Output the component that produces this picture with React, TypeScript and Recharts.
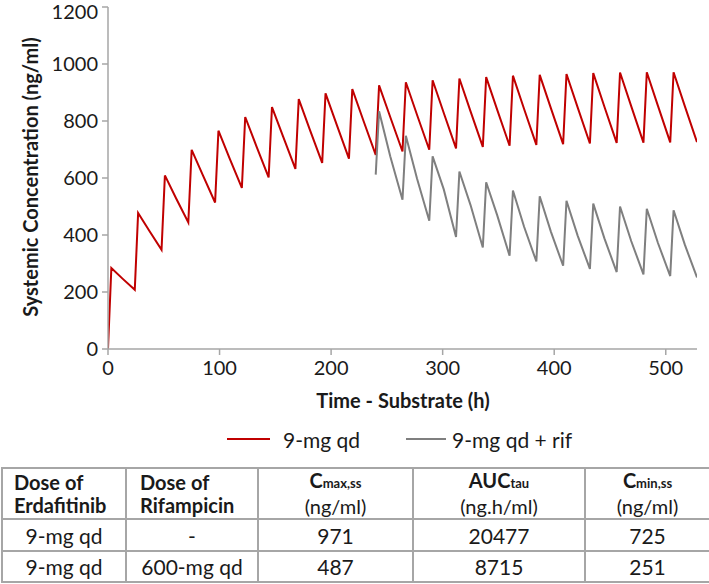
import { LineChart, Line, XAxis, YAxis } from 'recharts';

// dosing schedule (h) and concentrations (ng/ml)
const qdDoseTimes = [0, 24, 48, 72, 96, 120, 144, 168, 192, 216, 240, 264, 288, 312, 336, 360, 384, 408, 432, 456, 480, 504];
const qdStart = 0;
const qdPeaks = [284, 477, 609, 699, 766, 814, 849, 877, 897, 912, 925, 936, 943, 949, 954, 959, 962, 965, 968, 970, 971, 971];
const qdMids = [247, 415, 529, 610, 669, 712, 745, 769, 787, 801, 814, 822, 828, 834, 838, 842, 845, 848, 850, 852, 853, 853];
const qdTroughs = [208, 348, 444, 514, 565, 602, 632, 653, 668, 681, 693, 699, 704, 709, 713, 716, 719, 721, 723, 724, 725, 726];

const rifDoseTimes = [240, 264, 288, 312, 336, 360, 384, 408, 432, 456, 480, 504];
const rifStart = 612;
const rifPeaks = [834, 748, 676, 623, 585, 556, 536, 520, 510, 500, 492, 487];
const rifMids = [676, 598, 560, 505, 468, 429, 412, 398, 388, 379, 372, 367];
const rifTroughs = [524, 450, 393, 356, 327, 307, 292, 281, 270, 262, 256, 251];

// hours after each dose
const PEAK_AT = 3;
const MID_AT = 13;
const TAU = 24;

const xTicks = [0, 100, 200, 300, 400, 500];
const yTicks = [0, 200, 400, 600, 800, 1000, 1200];

const tableRows = [
  ['9-mg qd', '-', '971', '20477', '725'],
  ['9-mg qd', '600-mg qd', '487', '8715', '251'],
];

const RED = '#c00000';
const GREY = '#7f7f7f';
const AXIS = '#a6a6a6';
const TEXT = '#1a1a1a';
const FONT = 'Lato, "Open Sans", sans-serif';

function buildProfile(doses: number[], start: number, peaks: number[], mids: number[], troughs: number[]) {
  const pts = [{ t: doses[0], c: start }];
  doses.forEach((d, i) => {
    pts.push({ t: d + PEAK_AT, c: peaks[i] });
    pts.push({ t: d + MID_AT, c: mids[i] });
    pts.push({ t: d + TAU, c: troughs[i] });
  });
  return pts;
}

const qdData = buildProfile(qdDoseTimes, qdStart, qdPeaks, qdMids, qdTroughs);
const rifData = buildProfile(rifDoseTimes, rifStart, rifPeaks, rifMids, rifTroughs);

const cell: React.CSSProperties = {
  border: `2px solid ${AXIS}`,
  textAlign: 'center',
  padding: 0,
  fontSize: 21,
  color: TEXT,
};

const headCell: React.CSSProperties = { ...cell, fontSize: 20, lineHeight: '23px' };

function Sub({ main, sub }: { main: string; sub: string }) {
  return (
    <span style={{ fontWeight: 700 }}>
      {main}
      <span style={{ fontSize: 13 }}>{sub}</span>
    </span>
  );
}

export default function App() {
  return (
    <div style={{ position: 'absolute', left: 0, top: 0, width: 709, height: 584, background: '#fff', fontFamily: FONT }}>
      <LineChart width={709} height={420} margin={{ top: 7, right: 12, left: 0, bottom: 0 }}>
        <XAxis
          type="number"
          dataKey="t"
          domain={[0, 528]}
          ticks={xTicks}
          height={71}
          tickSize={6}
          tickMargin={6}
          stroke={AXIS}
          strokeWidth={1.5}
          tick={{ fontSize: 20, fill: TEXT, fontFamily: FONT }}
          allowDataOverflow
        />
        <YAxis
          type="number"
          domain={[0, 1200]}
          ticks={yTicks}
          width={108}
          tickSize={6}
          tickMargin={4}
          stroke={AXIS}
          strokeWidth={1.5}
          tick={{ fontSize: 20, fill: TEXT, fontFamily: FONT }}
        />
        <Line data={qdData} dataKey="c" type="linear" stroke={RED} strokeWidth={2} dot={false} isAnimationActive={false} />
        <Line data={rifData} dataKey="c" type="linear" stroke={GREY} strokeWidth={2} dot={false} isAnimationActive={false} />
      </LineChart>

      <div
        style={{
          position: 'absolute',
          left: 30,
          top: 177,
          transform: 'translate(-50%, -50%) rotate(-90deg)',
          whiteSpace: 'nowrap',
          fontSize: 20,
          fontWeight: 700,
          color: TEXT,
        }}
      >
        Systemic Concentration (ng/ml)
      </div>
      <div
        style={{
          position: 'absolute',
          left: 403,
          top: 400,
          transform: 'translate(-50%, -50%)',
          whiteSpace: 'nowrap',
          fontSize: 20,
          fontWeight: 700,
          color: TEXT,
        }}
      >
        Time - Substrate (h)
      </div>

      <div
        style={{
          position: 'absolute',
          left: 227,
          top: 425,
          height: 28,
          display: 'flex',
          alignItems: 'center',
          fontSize: 21,
          color: TEXT,
          whiteSpace: 'nowrap',
        }}
      >
        <span style={{ width: 43, height: 2, background: RED, marginRight: 13 }} />
        <span>9-mg qd</span>
        <span style={{ width: 40, height: 2, background: GREY, marginLeft: 46, marginRight: 6 }} />
        <span>9-mg qd + rif</span>
      </div>

      <table
        style={{
          position: 'absolute',
          left: 1,
          top: 467,
          width: 708,
          borderCollapse: 'collapse',
          tableLayout: 'fixed',
          fontFamily: FONT,
        }}
      >
        <colgroup>
          <col style={{ width: 124 }} />
          <col style={{ width: 132 }} />
          <col style={{ width: 155 }} />
          <col style={{ width: 172 }} />
          <col style={{ width: 125 }} />
        </colgroup>
        <tbody>
          <tr style={{ height: 51 }}>
            <td style={{ ...headCell, textAlign: 'left', paddingLeft: 11, fontWeight: 700 }}>
              Dose of
              <br />
              Erdafitinib
            </td>
            <td style={{ ...headCell, textAlign: 'left', paddingLeft: 13, fontWeight: 700 }}>
              Dose of
              <br />
              Rifampicin
            </td>
            <td style={headCell}>
              <Sub main="C" sub="max,ss" />
              <br />
              (ng/ml)
            </td>
            <td style={headCell}>
              <Sub main="AUC" sub="tau" />
              <br />
              (ng.h/ml)
            </td>
            <td style={headCell}>
              <Sub main="C" sub="min,ss" />
              <br />
              (ng/ml)
            </td>
          </tr>
          {tableRows.map((row, ri) => (
            <tr key={ri} style={{ height: ri === 0 ? 32 : 31 }}>
              {row.map((v, ci) => (
                <td key={ci} style={cell}>
                  {v}
                </td>
              ))}
            </tr>
          ))}
        </tbody>
      </table>
    </div>
  );
}
